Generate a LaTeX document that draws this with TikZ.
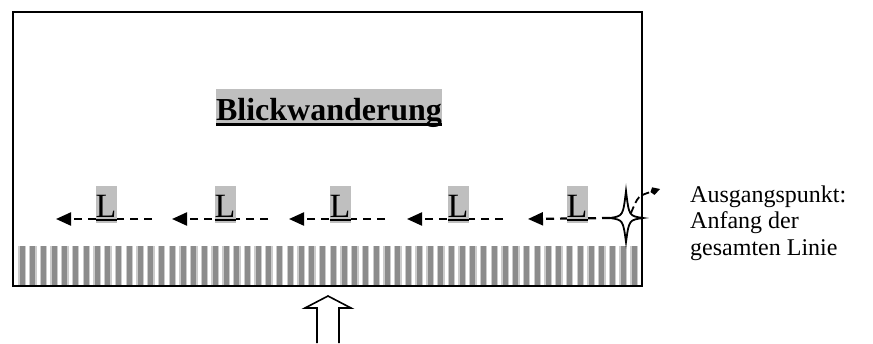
\documentclass[tikz,border=0pt]{standalone}
\usepackage{fontspec}
\setmainfont{Liberation Serif}
\usetikzlibrary{arrows.meta}
\newcommand{\ulx}[4]{\sbox0{\makebox[#1]{#4}}\rlap{\usebox0}\rule[-#2]{\wd0}{#3}}
\begin{document}
\begin{tikzpicture}[x=1pt,y=-1pt,
  frame/.style={draw, line width=1.6pt},
  flow/.style={draw, line width=2.2pt, dash pattern=on 8pt off 6pt, -{Triangle[length=15pt,width=13pt]}},
  lbox/.style={fill=black!25, inner sep=0pt, text height=31pt, text depth=6pt, anchor=base, font=\fontsize{34}{36}\selectfont},
  titlebox/.style={fill=black!25, inner sep=0pt, text height=31pt, text depth=6pt, anchor=base, font=\fontsize{32}{36}\selectfont\bfseries},
  note/.style={anchor=base west, inner sep=0pt, align=left, font=\fontsize{24}{26.5}\selectfont},
  darkstripe/.style={fill=black!45},
  lightstripe/.style={fill=black!20},
  starshape/.style={draw, fill=white, line width=1.8pt, line join=miter},
  blockarrow/.style={draw, line width=1.6pt, line join=miter},
  pointer/.style={draw, line width=1.8pt, dash pattern=on 7pt off 4pt, -{Kite[length=10pt,width=8pt,inset=3pt]}}
]
\useasboundingbox (0,0) rectangle (873,343);
% stripe band
\foreach \i in {0,...,57} {
  \pgfmathsetmacro{\cx}{22+10.737*\i}
  \fill[lightstripe] (\cx-3.8,246) rectangle (\cx+3.8,285);
  \fill[darkstripe] (\cx-2.5,246) rectangle (\cx+2.5,285);
}
% frame
\draw[frame] (13,12) rectangle (642,286);
% title
\node[titlebox] (title) at (329,120) {\ulx{226pt}{6pt}{3pt}{Blickwanderung}};
% dashed arrows
\coordinate (s1) at (152,219); \coordinate (t1) at (56,219);
\coordinate (s2) at (268,219); \coordinate (t2) at (172,219);
\coordinate (s3) at (385,219); \coordinate (t3) at (289,219);
\coordinate (s4) at (503,219); \coordinate (t4) at (407,219);
\coordinate (t5) at (528,219);
\coordinate (starl) at (610,218);
\draw[flow] (s1) -- (t1);
\draw[flow] (s2) -- (t2);
\draw[flow] (s3) -- (t3);
\draw[flow] (s4) -- (t4);
\draw[flow] (starl) -- (t5);
% L labels
\node[lbox] (L1) at (106,217) {\ulx{21pt}{4pt}{1.6pt}{L}};
\node[lbox] (L2) at (225,217) {\ulx{21pt}{4pt}{1.6pt}{L}};
\node[lbox] (L3) at (340,217) {\ulx{21pt}{4pt}{1.6pt}{L}};
\node[lbox] (L4) at (458,217) {\ulx{21pt}{4pt}{1.6pt}{L}};
\node[lbox] (L5) at (577,217) {\ulx{21pt}{4pt}{1.6pt}{L}};
% star
\draw[starshape] (610,218) .. controls (623,216) .. (626,191)
  .. controls (629,216) .. (643,218)
  .. controls (629,220) .. (626,242)
  .. controls (623,220) .. cycle;
% pointer to note
\coordinate (ptr) at (660,189);
\draw[pointer] (631,213) .. controls (638,196) .. (ptr);
\node[note] (note) at (690,255) {Ausgangspunkt:\\Anfang der\\gesamten Linie};
% block arrow
\draw[blockarrow] (317,343) -- (317,308) -- (305,308) -- (328,296) -- (351,308) -- (339,308) -- (339,343);
\end{tikzpicture}
\end{document}
